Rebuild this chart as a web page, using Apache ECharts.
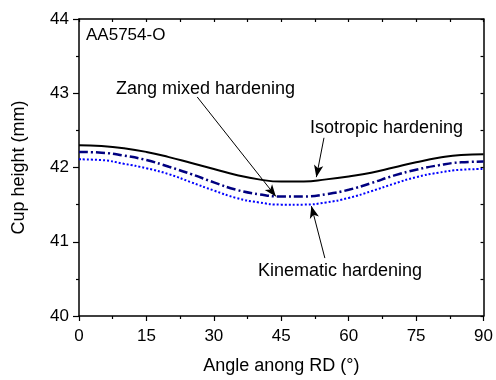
<!DOCTYPE html>
<html><head><meta charset="utf-8">
<script src="https://cdn.jsdelivr.net/npm/echarts@6/dist/echarts.min.js"></script>
<style>html,body{margin:0;padding:0;background:#fff}#c{width:496px;height:380px}</style>
</head><body><div id="c"></div>
<script>
var angles = [0,5,10,15,20,25,30,35,40,45,50,55,60,65,70,75,80,85,90];
var isotropic = [42.30,42.29,42.26,42.21,42.14,42.06,41.98,41.90,41.84,41.81,41.81,41.84,41.88,41.93,42.00,42.07,42.13,42.17,42.18];
var zangMixed = [42.21,42.20,42.16,42.10,42.01,41.91,41.80,41.70,41.64,41.61,41.61,41.64,41.70,41.79,41.89,41.97,42.03,42.07,42.08];
var kinematic = [42.11,42.10,42.05,41.99,41.91,41.80,41.69,41.59,41.53,41.50,41.50,41.53,41.59,41.68,41.78,41.87,41.93,41.97,41.98];
var xTicks = [0,15,30,45,60,75,90];
var yTicks = [40,41,42,43,44];

function pairs(v){ return angles.map(function(a,i){return [a,v[i]];}); }
var F = 'Liberation Sans, Arial, sans-serif';
var chart = echarts.init(document.getElementById('c'));
function arrow(from, to){
  return [{coord: from, symbol: 'none'}, {coord: to, symbol: 'arrow', symbolSize: [7,12]}];
}
chart.setOption({
  animation: false,
  grid: {left: 79, right: 9, top: 19, bottom: 64},
  xAxis: [{
    type: 'value', min: 0, max: 90, interval: 15,
    name: 'Angle anong RD (°)', nameLocation: 'middle', nameGap: 41,
    nameTextStyle: {fontFamily: F, fontSize: 18, color: '#000'},
    axisLine: {onZero: false, lineStyle: {color: '#000', width: 1.5}},
    axisTick: {inside: false, length: 5, lineStyle: {color: '#000', width: 1.2}},
    minorTick: {show: true, splitNumber: 2, length: 3, lineStyle: {color: '#000', width: 1.2}},
    axisLabel: {fontFamily: F, fontSize: 17, color: '#000', margin: 12,
      customValues: xTicks},
    splitLine: {show: false}
  },{
    type: 'value', position: 'top', min: 0, max: 90, interval: 7.5,
    axisLine: {onZero: false, lineStyle: {color: '#000', width: 1.5}},
    axisTick: {inside: true, length: 3, lineStyle: {color: '#000', width: 1.2}},
    axisLabel: {show: false}, splitLine: {show: false}
  }],
  yAxis: [{
    type: 'value', min: 40, max: 44, interval: 1,
    name: 'Cup height (mm)', nameLocation: 'middle', nameGap: 51,
    nameTextStyle: {fontFamily: F, fontSize: 18, color: '#000'},
    axisLine: {onZero: false, lineStyle: {color: '#000', width: 1.5}},
    axisTick: {inside: false, length: 6, lineStyle: {color: '#000', width: 1.2}},
    minorTick: {show: true, splitNumber: 2, length: 3, lineStyle: {color: '#000', width: 1.2}},
    axisLabel: {fontFamily: F, fontSize: 17, color: '#000', margin: 10,
      customValues: yTicks},
    splitLine: {show: false}
  },{
    type: 'value', position: 'right', min: 40, max: 44, interval: 0.5,
    axisLine: {onZero: false, lineStyle: {color: '#000', width: 1.5}},
    axisTick: {inside: true, length: 3, lineStyle: {color: '#000', width: 1.2}},
    axisLabel: {show: false}, splitLine: {show: false}
  }],
  series: [{
    name: 'Isotropic hardening', type: 'line', smooth: true, showSymbol: false,
    data: pairs(isotropic),
    lineStyle: {color: '#000', width: 2},
    markLine: {silent: true, symbol: ['none','arrow'],
      lineStyle: {color: '#000', width: 1, type: 'solid'}, label: {show: false},
      data: [arrow([54.5, 42.40],[52.8, 41.87])]}
  },{
    name: 'Zang mixed hardening', type: 'line', smooth: true, showSymbol: false,
    data: pairs(zangMixed),
    lineStyle: {color: '#000080', width: 2.5, type: [9,3,2,3]},
    markLine: {silent: true, symbol: ['none','arrow'],
      lineStyle: {color: '#000', width: 1, type: 'solid'}, label: {show: false},
      data: [arrow([26.3, 42.95],[43.8, 41.61])]}
  },{
    name: 'Kinematic hardening', type: 'line', smooth: true, showSymbol: false,
    data: pairs(kinematic),
    lineStyle: {color: '#0000ff', width: 2, type: [2,2]},
    markLine: {silent: true, symbol: ['none','arrow'],
      lineStyle: {color: '#000', width: 1, type: 'solid'}, label: {show: false},
      data: [arrow([54.7, 40.78],[51.7, 41.48])]}
  }],
  graphic: [
    {type: 'text', left: 86, top: 27, style: {text: 'AA5754-O', font: '17px ' + F, fill: '#000'}},
    {type: 'text', left: 116, top: 80, style: {text: 'Zang mixed hardening', font: '18px ' + F, fill: '#000'}},
    {type: 'text', left: 310, top: 119, style: {text: 'Isotropic hardening', font: '18px ' + F, fill: '#000'}},
    {type: 'text', left: 258, top: 262, style: {text: 'Kinematic hardening', font: '18px ' + F, fill: '#000'}}
  ]
});
</script></body></html>
